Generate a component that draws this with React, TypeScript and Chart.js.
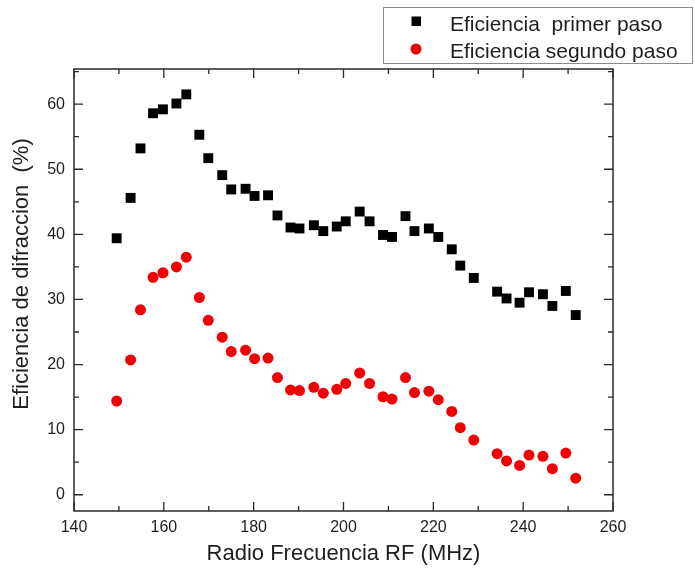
import React, { useEffect, useRef } from "react";
import { Chart, registerables } from "chart.js";

Chart.register(...registerables);

const freqMHz = [149.5, 152.6, 154.8, 157.6, 159.8, 162.8, 165.0, 167.9, 169.9, 173.0, 175.0, 178.2, 180.2, 183.2, 185.3, 188.2, 190.2, 193.4, 195.5, 198.5, 200.5, 203.6, 205.8, 208.8, 210.8, 213.8, 215.8, 219.0, 221.1, 224.1, 226.0, 229.0, 234.2, 236.3, 239.2, 241.3, 244.4, 246.5, 249.5, 251.7];
const primerPaso = [39.4, 45.6, 53.2, 58.6, 59.2, 60.1, 61.5, 55.3, 51.7, 49.1, 46.9, 47.0, 45.9, 46.0, 42.9, 41.05, 40.9, 41.4, 40.5, 41.2, 42.0, 43.5, 42.0, 39.9, 39.6, 42.8, 40.5, 40.9, 39.6, 37.7, 35.2, 33.3, 31.2, 30.15, 29.5, 31.1, 30.8, 29.0, 31.3, 27.6];
const segundoPaso = [14.4, 20.7, 28.4, 33.4, 34.1, 35.0, 36.5, 30.3, 26.8, 24.2, 22.0, 22.2, 20.9, 21.0, 18.0, 16.1, 16.0, 16.5, 15.6, 16.2, 17.1, 18.7, 17.1, 15.05, 14.7, 18.0, 15.7, 15.9, 14.6, 12.8, 10.3, 8.4, 6.3, 5.2, 4.5, 6.1, 5.9, 4.0, 6.4, 2.55];

const xTicks = [140, 160, 180, 200, 220, 240, 260];
const xMinorTicks = [150, 170, 190, 210, 230, 250];
const yTicks = [0, 10, 20, 30, 40, 50, 60];
const yMinorTicks = [5, 15, 25, 35, 45, 55, 65];

const seriesLabels = ["Eficiencia  primer paso", "Eficiencia segundo paso"];
const xTitle = "Radio Frecuencia RF (MHz)";
const yTitle = "Eficiencia de difraccion  (%)";

const FONT = '"Liberation Sans", Arial, sans-serif';
const TEXT = "#1e1e1e";
const FRAME = "#2a2a2a";
const RED = "#f00000";

const decorPlugin = {
  id: "decor",
  afterDraw(chart: any) {
    const { ctx, chartArea: a, scales } = chart;
    const xs = scales.x;
    const ys = scales.y;
    ctx.save();
    // frame
    ctx.strokeStyle = FRAME;
    ctx.lineWidth = 1.5;
    ctx.strokeRect(a.left, a.top, a.right - a.left, a.bottom - a.top);
    // ticks
    const major = 9;
    const minor = 5;
    ctx.lineWidth = 1.3;
    ctx.beginPath();
    const xt = (v: number, len: number) => {
      const px = xs.getPixelForValue(v);
      ctx.moveTo(px, a.bottom);
      ctx.lineTo(px, a.bottom - len);
      ctx.moveTo(px, a.top);
      ctx.lineTo(px, a.top + len);
    };
    const yt = (v: number, len: number) => {
      const py = ys.getPixelForValue(v);
      ctx.moveTo(a.left, py);
      ctx.lineTo(a.left + len, py);
      ctx.moveTo(a.right, py);
      ctx.lineTo(a.right - len, py);
    };
    xTicks.forEach((v) => xt(v, major));
    xMinorTicks.forEach((v) => xt(v, minor));
    yTicks.forEach((v) => yt(v, major));
    yMinorTicks.forEach((v) => yt(v, minor));
    ctx.stroke();

    // axis titles
    ctx.fillStyle = TEXT;
    ctx.font = `22px ${FONT}`;
    ctx.textAlign = "center";
    ctx.textBaseline = "alphabetic";
    ctx.fillText(xTitle, (a.left + a.right) / 2, 560);
    ctx.save();
    ctx.translate(28, 274);
    ctx.rotate(-Math.PI / 2);
    ctx.fillText(yTitle, 0, 0);
    ctx.restore();

    // legend box
    ctx.strokeStyle = "#8a8a8a";
    ctx.lineWidth = 1;
    ctx.strokeRect(383.5, 7.5, 309, 56);
    // markers
    ctx.fillStyle = "#000";
    ctx.fillRect(411.5, 16.5, 9.5, 9.5);
    ctx.fillStyle = RED;
    ctx.beginPath();
    ctx.arc(416, 49, 5.5, 0, Math.PI * 2);
    ctx.fill();
    // legend text
    ctx.fillStyle = TEXT;
    ctx.font = `21px ${FONT}`;
    ctx.textAlign = "left";
    ctx.fillText(seriesLabels[0], 450, 31);
    ctx.fillText(seriesLabels[1], 450, 58);
    ctx.restore();
  },
};

export default function App() {
  const ref = useRef<HTMLCanvasElement | null>(null);
  useEffect(() => {
    if (!ref.current) return;
    const chart = new Chart(ref.current, {
      type: "scatter",
      data: {
        datasets: [
          {
            label: seriesLabels[0],
            data: freqMHz.map((x, i) => ({ x, y: primerPaso[i] })),
            pointStyle: "rect",
            pointRadius: 7,
            backgroundColor: "#000",
            borderColor: "#000",
            borderWidth: 0,
          },
          {
            label: seriesLabels[1],
            data: freqMHz.map((x, i) => ({ x, y: segundoPaso[i] })),
            pointStyle: "circle",
            pointRadius: 5.5,
            backgroundColor: RED,
            borderColor: RED,
            borderWidth: 0,
          },
        ],
      },
      options: {
        animation: false,
        responsive: false,
        maintainAspectRatio: false,
        layout: { padding: { top: 69, right: 82, left: 0, bottom: 0 } },
        plugins: {
          legend: { display: false },
          tooltip: { enabled: false },
        },
        scales: {
          x: {
            type: "linear",
            min: 140,
            max: 260,
            grid: { display: false, drawTicks: false },
            border: { display: false },
            ticks: {
              padding: 7,
              color: TEXT,
              font: { family: FONT, size: 16 },
            },
            afterBuildTicks: (s: any) => {
              s.ticks = xTicks.map((v) => ({ value: v }));
            },
            afterFit: (s: any) => {
              s.height = 67;
            },
          },
          y: {
            type: "linear",
            min: -2.5,
            max: 65.4,
            grid: { display: false, drawTicks: false },
            border: { display: false },
            ticks: {
              padding: 9,
              color: TEXT,
              font: { family: FONT, size: 16 },
            },
            afterBuildTicks: (s: any) => {
              s.ticks = yTicks.map((v) => ({ value: v }));
            },
            afterFit: (s: any) => {
              s.width = 74;
            },
          },
        },
      },
      plugins: [decorPlugin],
    });
    return () => chart.destroy();
  }, []);
  return (
    <div style={{ position: "fixed", left: 0, top: 0, width: 695, height: 578, background: "#fff" }}>
      <canvas ref={ref} width={695} height={578} style={{ width: 695, height: 578 }} />
    </div>
  );
}
